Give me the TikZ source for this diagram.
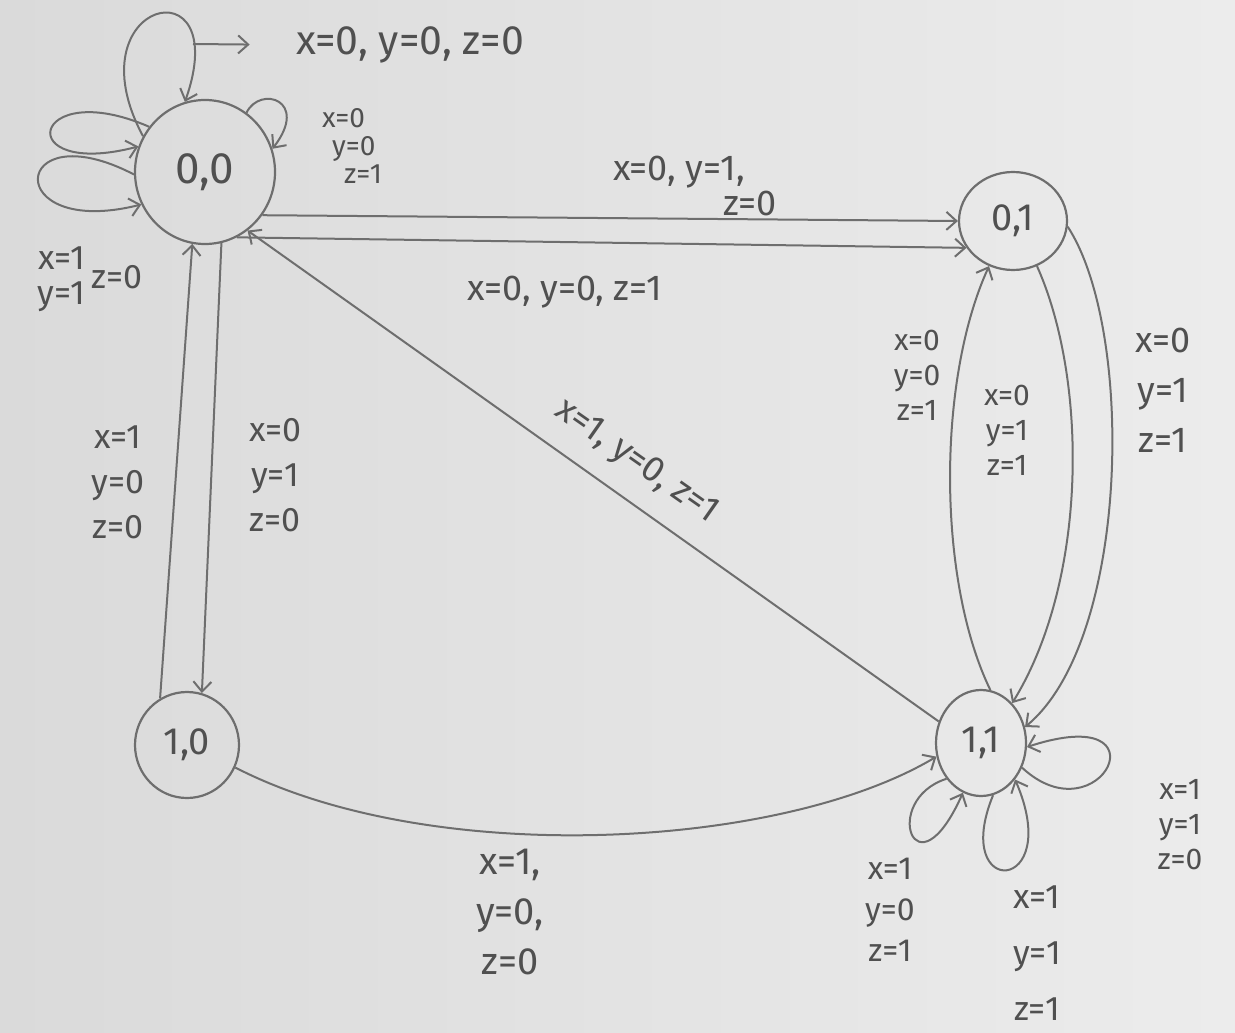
\documentclass[tikz,border=0pt]{standalone}
\usepackage{fontspec}
\setmainfont{Fira Sans}
\usetikzlibrary{arrows.meta,shapes.geometric}
\definecolor{paper}{RGB}{236,236,236}
\definecolor{paperdark}{RGB}{218,218,218}
\definecolor{pencil}{RGB}{110,110,110}
\definecolor{ink}{RGB}{80,80,80}
\begin{document}
\begin{tikzpicture}[x=0.5pt,y=-0.5pt,
  state/.style={draw=pencil, line width=1.1pt, ellipse, inner sep=0pt, text=ink},
  edge/.style={draw=pencil, line width=1pt},
  arr/.style={edge, -{Straight Barb[length=5pt,width=9pt]}},
  lbl/.style={text=ink, align=center, inner sep=1pt},
  fa/.style={font=\fontsize{15}{17.5}\selectfont},
  fb/.style={font=\fontsize{17}{22.5}\selectfont},
  fc/.style={font=\fontsize{18}{22}\selectfont},
]
\fill[left color=paperdark, right color=paper] (0,0) rectangle (1235,1032);
\useasboundingbox (0,0) rectangle (1235,1032);

% states
\node[state, minimum width=70pt, minimum height=72pt, font=\fontsize{22}{24}\selectfont] (n00) at (205,172) {0,0};
\node[state, minimum width=54pt, minimum height=49pt, font=\fontsize{19}{22}\selectfont] (n01) at (1013,221) {0,1};
\node[state, minimum width=52pt, minimum height=53pt, font=\fontsize{19}{22}\selectfont] (n10) at (187,745) {1,0};
\node[state, minimum width=45pt, minimum height=53pt, font=\fontsize{19}{22}\selectfont] (n11) at (981,743) {1,1};

% self-loops on (0,0)
\draw[arr] (n00.150) .. controls (70,0) and (235,-40) .. (n00.106);
\draw[arr] (n00.141) .. controls (30,75) and (10,180) .. (n00.159);
\draw[arr] (n00.182) .. controls (10,110) and (0,240) .. (n00.207);
\draw[arr] (n00.55) .. controls (260,85) and (310,100) .. (n00.19);

% (0,0) -> (0,1)
\draw[arr] (n00.-37) -- (n01.180);
\draw[arr] (n00.-64) -- (n01.210);

% diagonal (1,1) -> (0,0)
\draw[arr] (n11.153) -- (n00.-54);

% verticals
\draw[arr] (n10.120) -- (n00.260);
\draw[arr] (n00.283) -- (n10.74);

% (1,0) -> (1,1)
\draw[arr] (n10.-25) .. controls (430,868) and (780,850) .. (n11.197);

% between (0,1) and (1,1)
\draw[arr] (n11.80) .. controls (937,580) and (937,380) .. (n01.242);
\draw[arr] (n01.298) .. controls (1088,380) and (1088,580) .. (n11.52);
\draw[arr] (n01.-6) .. controls (1135,330) and (1130,640) .. (n11.20);

% self-loops on (1,1)
\draw[arr] (n11.-31) .. controls (1100,840) and (1170,700) .. (n11.-5);
\draw[arr] (n11.226) .. controls (880,800) and (915,900) .. (n11.250);
\draw[arr] (n11.283) .. controls (950,900) and (1065,895) .. (n11.313);

% labels
\node[lbl, font=\fontsize{20.5}{22}\selectfont] (L1) at (410,45) {x=0, y=0, z=0};
\coordinate (ta) at (193,44);
\draw[arr, shorten >=22pt] (ta) -- (L1.west);
\node[lbl, align=left, font=\fontsize{14}{14}\selectfont] (L2) at (352,146) {x=0\\\hspace*{5pt}y=0\\\hspace*{11pt}z=1};
\node[lbl, font=\fontsize{17}{17.5}\selectfont] (L3) at (90,280) {\begin{tabular}{@{}c@{}}x=1\\y=1\end{tabular}\,z=0};
\node[lbl, align=right, font=\fontsize{18}{11}\selectfont] (L4) at (695,186) {x=0, y=1,\hspace*{16pt}\\z=0};
\node[lbl, fc] (L5) at (565,292) {x=0, y=0, z=1};
\node[lbl, fc, rotate=-35] (L6) at (636,462) {x=1, y=0, z=1};
\node[lbl, fb] (L7) at (118,482) {x=1\\y=0\\z=0};
\node[lbl, fb] (L8) at (275,475) {x=0\\y=1\\z=0};
\node[lbl, font=\fontsize{19}{25}\selectfont] (L9) at (510,912) {x=1,\\y=0,\\z=0};
\node[lbl, fa] (L10) at (917,375) {x=0\\y=0\\z=1};
\node[lbl, fa] (L11) at (1007,430) {x=0\\y=1\\z=1};
\node[lbl, font=\fontsize{18}{25}\selectfont] (L12) at (1163,390) {x=0\\y=1\\z=1};
\node[lbl, fa] (L13) at (1180,825) {x=1\\y=1\\z=0};
\node[lbl, font=\fontsize{16}{20.5}\selectfont] (L14) at (890,910) {x=1\\y=0\\z=1};
\node[lbl, font=\fontsize{17}{28}\selectfont] (L15) at (1037,953) {x=1\\y=1\\z=1};
\end{tikzpicture}
\end{document}
